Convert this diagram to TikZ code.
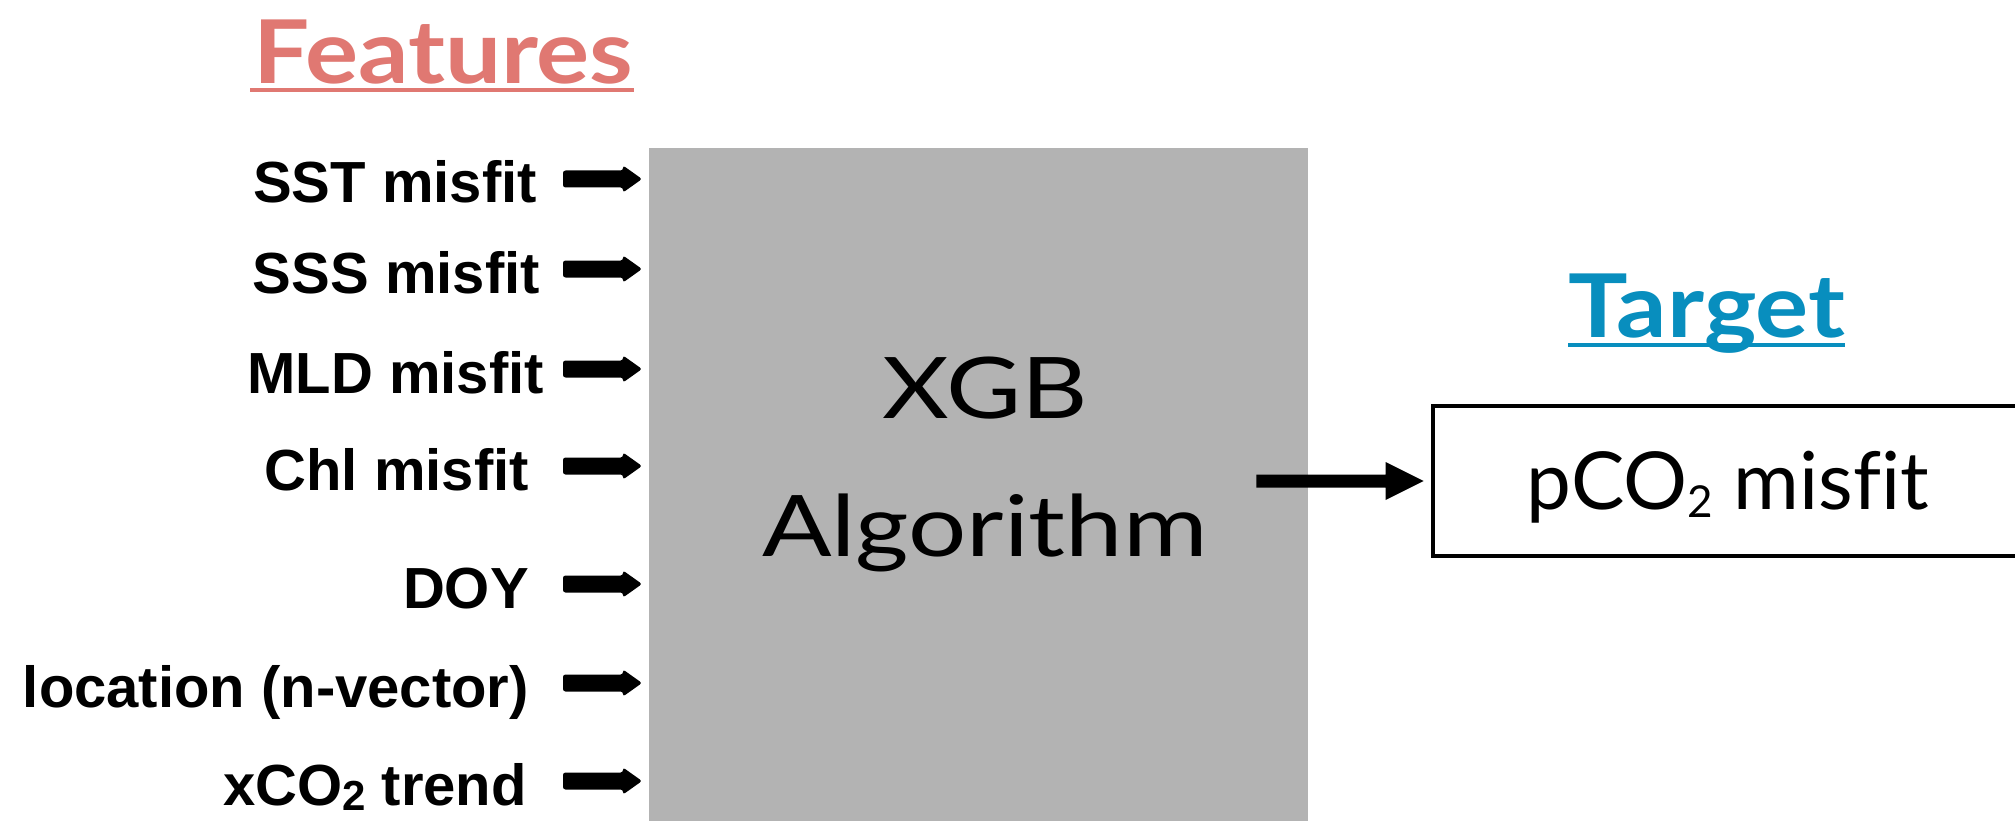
\documentclass[tikz,border=0pt]{standalone}
\usepackage{fontspec}
\setmainfont{Lato}[Ligatures=CommonOff]
\newfontfamily\labelfont{Liberation Sans}[Ligatures=CommonOff]
\usetikzlibrary{calc}

\definecolor{featcol}{RGB}{224,120,114}
\definecolor{targcol}{RGB}{8,142,190}
\definecolor{boxgray}{RGB}{179,179,179}

\tikzset{
  % block arrow: shaft width, head width, head length
  fatarrow/.style n args={3}{to path={
    let \p1=(\tikztostart), \p2=(\tikztotarget) in
    (\x1,\y1+#1/2) -- (\x2-#3,\y1+#1/2) -- (\x2-#3,\y1+#2/2) -- (\x2,\y1)
    -- (\x2-#3,\y1-#2/2) -- (\x2-#3,\y1-#1/2) -- (\x1,\y1-#1/2) -- cycle}},
  featlbl/.style={font=\labelfont\bfseries\fontsize{58}{58}\selectfont,
    anchor=east, inner sep=0pt, text height=48pt, text depth=0pt},
  heading/.style={font=\bfseries\fontsize{88}{88}\selectfont,
    anchor=base west, inner sep=0pt},
  bigtxt/.style={font=\fontsize{85}{85}\selectfont, anchor=base, inner sep=0pt},
}

% wide setting of the display lettering
\newcommand{\wide}[2]{\scalebox{#1}[1]{#2}}
\newcommand{\lblsub}[1]{\raisebox{-5pt}{\fontsize{42}{42}\selectfont #1}}

\begin{document}
\begin{tikzpicture}[x=1pt,y=-1pt]
\useasboundingbox[fill=white] (0,0) rectangle (2015,821);

% the learning algorithm
\node[fill=boxgray, minimum width=659pt, minimum height=720pt,
      anchor=north west, inner sep=0pt] (xgb) at (649,148) {};
\node[bigtxt] (xgbA) at (985,418) {\wide{1.21}{XGB}};
\node[bigtxt] (xgbB) at (985,556) {\wide{1.21}{Algorithm}};

% headings
\node[heading, text=featcol] (feat) at (253,84) {\wide{1.13}{Features}};
\draw[featcol, line width=4pt] ([shift={(-3pt,-6pt)}]feat.base west) -- ([yshift=-6pt]feat.base east);
\node[heading, text=targcol] (targ) at (1568,337) {\wide{1.13}{Target}};
\draw[targcol, line width=4pt] ([yshift=-8pt]targ.base west) -- ([yshift=-8pt]targ.base east);

% output box
\node[draw, line width=4pt, minimum width=591pt, minimum height=150pt,
      inner sep=0pt, text height=57pt, text depth=0pt,
      font=\fontsize{80}{80}\selectfont] (pbox) at (1728,481)
      {pCO\raisebox{-8pt}{\fontsize{44}{44}\selectfont 2} misfit};
\fill ([xshift=-52pt]xgb.east |- pbox.west) to[fatarrow={13pt}{38pt}{38pt}] ([xshift=-7pt]pbox.west);

% input features
\coordinate (astart) at (563,0);
\foreach \nm/\txt/\rx/\ay in {
    sst/{SST misfit}/537/179,
    sss/{SSS misfit}/540/269,
    mld/{MLD misfit}/544/369,
    chl/{Chl misfit}/529/466,
    doy/{DOY}/529/584,
    loc/{location (n-vector)}/529/683,
    xco/{xCO\lblsub{2} trend}/527/781} {
  \node[featlbl] (\nm) at (\rx,\ay) {\txt};
  \fill[rounded corners=2.5pt] (\nm.east -| astart)
     to[fatarrow={17pt}{27pt}{19pt}] ([xshift=-7pt]\nm.east -| xgb.west);
}
\end{tikzpicture}
\end{document}
